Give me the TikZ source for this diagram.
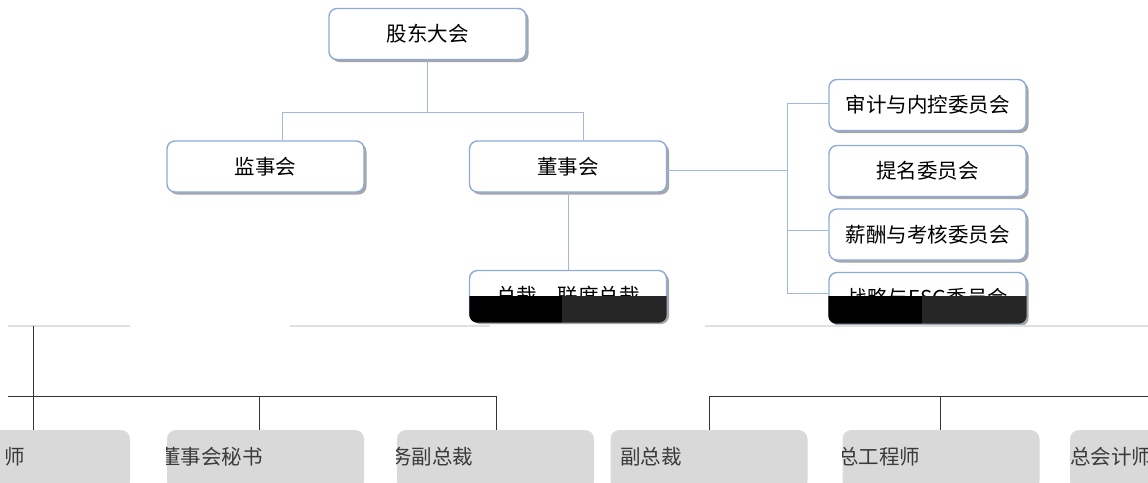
\documentclass[tikz,border=0pt]{standalone}
\usepackage{fontspec}
\newfontfamily\cjk{Noto Sans CJK SC}
\usetikzlibrary{shadows}
\definecolor{bordc}{HTML}{8EAADB}
\definecolor{linec}{HTML}{A3B8DF}
\definecolor{greyfill}{HTML}{D9D9D9}
\definecolor{gtextc}{HTML}{3A3A3A}
\begin{document}
\begin{tikzpicture}[x=1pt,y=-1pt,
  box/.style={draw=bordc, line width=1.4pt, fill=white, rounded corners=8pt,
    minimum width=197pt, minimum height=51pt, inner sep=0pt,
    font=\cjk\fontsize{20.5}{24}\selectfont,
    drop shadow={shadow xshift=2.5pt, shadow yshift=-2.5pt, fill=black, opacity=0.35}},
  conn/.style={draw=linec, line width=0.9pt},
  bconn/.style={draw=black!80, line width=0.8pt},
  gbox/.style={fill=greyfill, rounded corners=9pt, minimum width=197pt, minimum height=60pt, inner sep=0pt},
  gtext/.style={font=\cjk\fontsize{20.5}{24}\selectfont, text=gtextc, inner sep=0pt, anchor=west},
  faint/.style={draw=black!12, line width=1.2pt}]
\useasboundingbox (0,0) rectangle (1148,482);

% top level
\node[box] (gd) at (427.5,34) {股东大会};
\node[box] (js) at (265.5,166.5) {监事会};
\node[box] (dsh) at (568,166.5) {董事会};

\coordinate (jL) at (282,112);
\coordinate (jR) at (583,112);
\draw[conn] (gd.south) -- (gd.south |- jL);
\draw[conn] (jL) -- (jR);
\draw[conn] (jL) -- (jL |- js.north);
\draw[conn] (jR) -- (jR |- dsh.north);

% committees
\node[box] (sj) at (927.5,105) {审计与内控委员会};
\node[box] (tm) at (927.5,171) {提名委员会};
\node[box] (xc) at (927.5,234.5) {薪酬与考核委员会};
\node[box] (zl) at (927.5,298) {战略与ESG委员会};

\coordinate (cT) at (787,103);
\coordinate (cB) at (787,293);
\coordinate (cM) at (787,170);
\draw[conn] (dsh.east |- cM) -- (cM);
\draw[conn] (cT) -- (cB);
\draw[conn] (cT) -- (sj.west |- cT);
\draw[conn] (787,230) -- (xc.west |- 0,230);
\draw[conn] (cB) -- (zl.west |- cB);

% president
\node[box] (zc) at (568,296) {总裁、联席总裁};
\draw[conn] (dsh.south) -- (zc.north);

% dark overlays
\begin{scope}
\clip[rounded corners=8pt] (469.3,269.3) rectangle (666.7,322.7);
\fill[black] (460,296) rectangle (562,330);
\fill[black!85] (562,296) rectangle (670,330);
\end{scope}
\begin{scope}
\clip[rounded corners=8pt] (828.3,272.3) rectangle (1026.7,323.7);
\fill[black] (820,296) rectangle (922,330);
\fill[black!85] (922,296) rectangle (1030,330);
\end{scope}

% faint lines
\draw[faint] (8,326) -- (130,326);
\draw[faint] (290,326) -- (490,326);
\draw[faint] (705,326) -- (1148,326);

% lower level connectors
\coordinate (lA) at (8,396);
\coordinate (lB) at (497,396);
\coordinate (rA) at (709,396);
\coordinate (rB) at (1148,396);
\draw[bconn] (lA) -- (lB);
\draw[bconn] (rA) -- (rB);

% lower boxes
\node[gbox] (b1) at (31.5,460) {};
\node[gbox] (b2) at (265.5,460) {};
\node[gbox] (b3) at (495.5,460) {};
\node[gbox] (b4) at (709,460) {};
\node[gbox] (b5) at (941,460) {};
\node[gbox] (b6) at (1168.5,460) {};

\draw[bconn] (33,326) -- (33,430);
\draw[bconn] (259,396) -- (259,430);
\draw[bconn] (496,396) -- (496,430);
\draw[bconn] (709,396) -- (709,430);
\draw[bconn] (940,396) -- (940,430);

\begin{scope}\clip (b1.south west) rectangle (b1.north east);
\node[gtext] (t1) at (4,457) {师};\end{scope}
\begin{scope}\clip (b2.south west) rectangle (b2.north east);
\node[gtext] (t2) at (160,457) {董事会秘书};\end{scope}
\begin{scope}\clip (b3.south west) rectangle (b3.north east);
\node[gtext] (t3) at (391,457) {务副总裁};\end{scope}
\begin{scope}\clip (b4.south west) rectangle (b4.north east);
\node[gtext] (t4) at (620,457) {副总裁};\end{scope}
\begin{scope}\clip (b5.south west) rectangle (b5.north east);
\node[gtext] (t5) at (838,457) {总工程师};\end{scope}
\begin{scope}\clip (b6.south west) rectangle (b6.north east);
\node[gtext] (t6) at (1070,457) {总会计师};\end{scope}
\end{tikzpicture}
\end{document}
